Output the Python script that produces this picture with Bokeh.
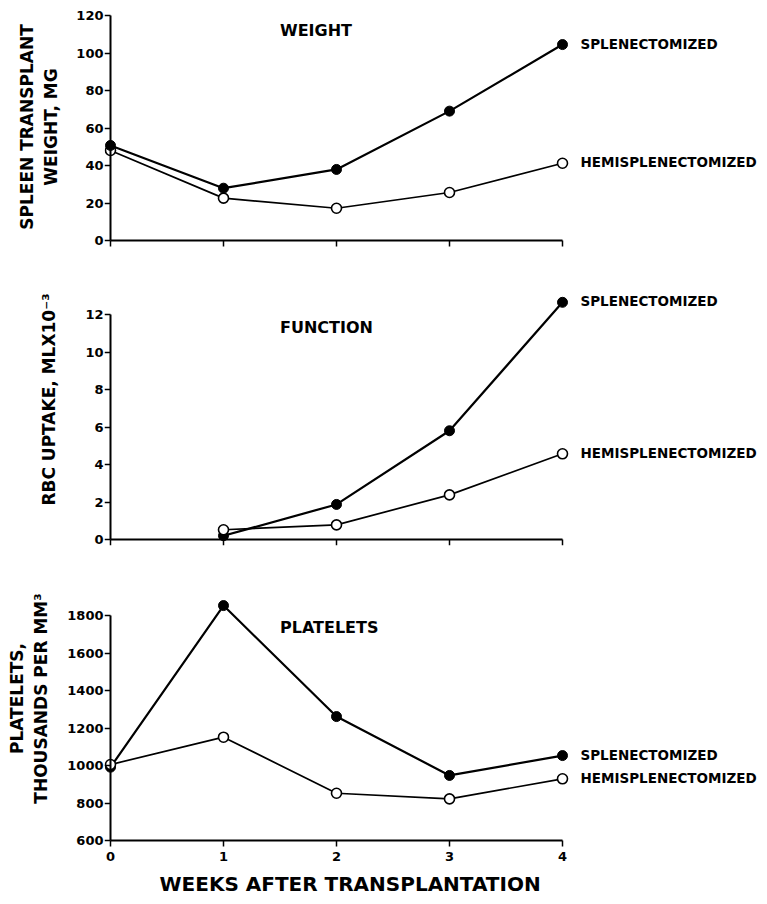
from bokeh.plotting import figure
from bokeh.layouts import column
from bokeh.models import Range1d, FixedTicker, Label, LinearAxis, Title
from bokeh.embed import file_html
from bokeh.resources import INLINE
from bokeh.core.properties import value

# ---------------- data ----------------
weeks = [0, 1, 2, 3, 4]
x_ticks = [0, 1, 2, 3, 4]

weight_splen = [50.7, 27.9, 37.9, 69.0, 104.5]
weight_hemi = [48.0, 22.6, 17.2, 25.6, 41.2]
weight_ticks = [0, 20, 40, 60, 80, 100, 120]

func_weeks = [1, 2, 3, 4]
func_splen = [0.2, 1.87, 5.8, 12.65]
func_hemi = [0.52, 0.78, 2.38, 4.57]
func_ticks = [0, 2, 4, 6, 8, 10, 12]

plt_splen = [991, 1853, 1261, 947, 1053]
plt_hemi = [1005, 1151, 852, 822, 929]
plt_ticks = [600, 800, 1000, 1200, 1400, 1600, 1800]

label_splen = "SPLENECTOMIZED"
label_hemi = "HEMISPLENECTOMIZED"
x_title = "WEEKS AFTER TRANSPLANTATION"

FONT = "DejaVu Sans"
W = 767
PX_PER_WEEK = 113.0
AXIS_X = 110          # canvas x of week 0
FRAME_LEFT = 104
FRAME_RIGHT = 767
x_start = -(AXIS_X - FRAME_LEFT) / PX_PER_WEEK
x_end = (FRAME_RIGHT - AXIS_X) / PX_PER_WEEK


def bold(ax, size):
    ax.major_label_text_font = FONT
    ax.major_label_text_font_style = "bold"
    ax.major_label_text_font_size = size
    ax.major_label_text_color = "black"
    ax.axis_label_text_font = FONT
    ax.axis_label_text_font_style = "bold"
    ax.axis_label_text_color = "black"


def make_panel(height, b_top, b_bottom, y0, y1, ticks, ylabel, ylabel_standoff,
               ylabel_bounds, xs, splen, hemi, title, title_y,
               hemi_on_top=True, bottom=False):
    p = figure(width=W, height=height, output_backend="svg", toolbar_location=None,
               x_range=Range1d(x_start, x_end), y_range=Range1d(y0, y1),
               x_axis_location=None, y_axis_location=None,
               min_border_left=FRAME_LEFT, min_border_right=0,
               min_border_top=b_top, min_border_bottom=b_bottom)
    p.outline_line_color = None
    p.grid.visible = False
    p.background_fill_color = "white"
    p.border_fill_color = "white"

    # y axis: line + ticks at week 0
    ya = LinearAxis(fixed_location=0, bounds=(ticks[0], ticks[-1]),
                    ticker=FixedTicker(ticks=ticks), axis_line_width=2,
                    major_tick_in=0, major_tick_out=6, major_tick_line_width=1.5,
                    minor_tick_line_color=None, major_label_text_color=None)
    p.add_layout(ya, "left")
    # y axis: tick labels + title
    yl = LinearAxis(ticker=FixedTicker(ticks=ticks), bounds=ylabel_bounds,
                    axis_line_color=None, major_tick_line_color=None,
                    minor_tick_line_color=None, major_tick_in=0, major_tick_out=0,
                    major_label_standoff=1, axis_label=ylabel,
                    axis_label_standoff=ylabel_standoff)
    bold(yl, "13px")
    yl.axis_label_text_font_size = "17px"
    p.add_layout(yl, "left")

    # x axis: line + ticks at lowest y tick
    xa = LinearAxis(fixed_location=ticks[0], bounds=(x_ticks[0], x_ticks[-1]),
                    ticker=FixedTicker(ticks=x_ticks), axis_line_width=2,
                    major_tick_in=0, major_tick_out=6, major_tick_line_width=1.5,
                    minor_tick_line_color=None, major_label_text_color=None)
    p.add_layout(xa, "below")
    if bottom:
        xl = LinearAxis(ticker=FixedTicker(ticks=x_ticks), bounds=(x_ticks[0], x_ticks[-1]),
                        axis_line_color=None, major_tick_line_color=None,
                        minor_tick_line_color=None, major_tick_in=0, major_tick_out=0,
                        major_label_standoff=4)
        bold(xl, "13px")
        p.add_layout(xl, "below")
        p.add_layout(Title(text=x_title, align="left", offset=55, standoff=13,
                           text_font=FONT, text_font_style="bold",
                           text_font_size="20px", text_color="black"), "below")

    # lines
    p.line(xs, splen, line_color="black", line_width=2.2)
    p.line(xs, hemi, line_color="black", line_width=1.7)

    def draw_splen():
        p.scatter(xs, splen, size=10, marker="circle", fill_color="black",
                  line_color="black", line_width=1)

    def draw_hemi():
        p.scatter(xs, hemi, size=10, marker="circle", fill_color="white",
                  line_color="black", line_width=1.6)

    if hemi_on_top:
        draw_splen(); draw_hemi()
    else:
        draw_hemi(); draw_splen()

    # series labels
    for yv, txt in ((splen[-1], label_splen), (hemi[-1], label_hemi)):
        p.text(x=[xs[-1]], y=[yv], text=[txt], x_offset=18, y_offset=-1,
               text_font=value(FONT), text_font_style="bold",
               text_font_size="13.5px", text_color="black",
               text_align="left", text_baseline="middle")

    p.add_layout(Label(x=1.5, y=title_y, text=title, text_font=FONT,
                       text_font_style="bold", text_font_size="16px",
                       text_color="black", text_align="left",
                       text_baseline="middle"))
    return p


# top panel: canvas 0..251, frame 3..250 ; 0 -> 240, 120 -> 15
s1 = 225 / 120.0
p1 = make_panel(251, 3, 1, -(250 - 240) / s1, (240 - 3) / s1, weight_ticks,
                "SPLEEN TRANSPLANT\nWEIGHT, MG", 12, (0, 120),
                weeks, weight_splen, weight_hemi, "WEIGHT", 112, hemi_on_top=False)

# middle panel: canvas 251..549, frame 253..545 ; 0 -> 539, 12 -> 314
s2 = 225 / 12.0
p2 = make_panel(298, 2, 4, -(545 - 539) / s2, (539 - 253) / s2, func_ticks,
                "RBC UPTAKE, MLX10\u207b\u00b3", 23, (-0.5, 12),
                func_weeks, func_splen, func_hemi, "FUNCTION", 11.3)

# bottom panel: canvas 549..904, frame 549..847 ; 600 -> 840, 1800 -> 615
s3 = 225 / 1200.0
p3 = make_panel(355, 0, 57, 600 - (847 - 840) / s3, 600 + (840 - 549) / s3, plt_ticks,
                "PLATELETS,\nTHOUSANDS PER MM\u00b3", 13, (600, 1800),
                weeks, plt_splen, plt_hemi, "PLATELETS", 1736, bottom=True)

layout = column(p1, p2, p3, spacing=0)
open("out.html", "w").write(file_html(layout, INLINE))
